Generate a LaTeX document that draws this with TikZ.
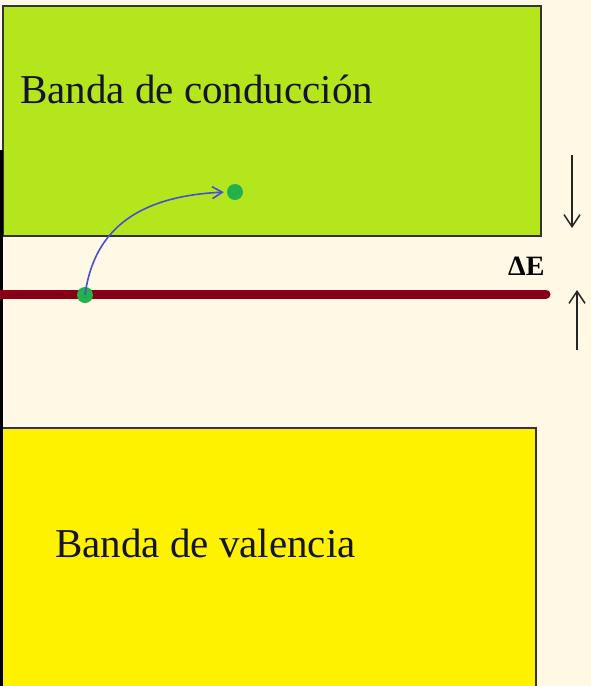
\documentclass[tikz,border=0pt]{standalone}
\usepackage{fontspec}
\setmainfont{Liberation Serif}
\usetikzlibrary{positioning,calc}
\usetikzlibrary{arrows.meta}
\definecolor{BgCream}{RGB}{255,248,228}
\definecolor{LimeBand}{RGB}{181,230,29}
\definecolor{YellowBand}{RGB}{255,242,0}
\definecolor{DotGreen}{RGB}{34,177,76}
\definecolor{LevelRed}{RGB}{136,0,21}
\definecolor{JumpBlue}{RGB}{70,80,210}
\definecolor{InkNavy}{RGB}{20,20,45}
\tikzset{
  band/.style={draw=black!80,line width=1.8pt,anchor=north west,inner sep=0pt},
  bandtxt/.style={font=\fontsize{41}{41}\selectfont,text=InkNavy,anchor=base west,inner sep=0pt},
  elec/.style={circle,fill=DotGreen,inner sep=0pt,minimum size=16pt},
  gaparrow/.style={draw=black!85,line width=1.5pt,-{Straight Barb[length=12pt,width=16pt]}},
}
\tikzset{level/.style={draw=LevelRed,line width=9pt,line cap=round},jump/.style={draw=JumpBlue,line width=1.6pt,-{Straight Barb[length=10pt,width=12pt]},shorten >=3pt}}

\begin{document}
\begin{tikzpicture}[x=1pt,y=-1pt]
\useasboundingbox[fill=BgCream] (0,0) rectangle (591,686);
\node[band,fill=LimeBand,minimum width=538pt,minimum height=230pt](cond) at (2,5){};
\node[band,fill=YellowBand,minimum width=535pt,minimum height=260pt](val) at (0,427){};
\draw[black,line width=3pt] (1,150)--(1,686);
\node[bandtxt](condtxt) at (20,103){Banda de conducción};
\node[bandtxt](valtxt) at (55,557){Banda de valencia};
\coordinate(lvlL) at (0,294);\coordinate(lvlR) at (546,294);
\draw[level] (lvlL)--(lvlR);
\node[elec](e1) at (85,295){};\node[elec](e2) at (235,192){};
\draw[jump] (e1.center) .. controls (94,228) and (140,196) .. (e2.west);
\coordinate(gT1) at (572,155);\coordinate(gT2) at (572,228);
\coordinate(gB1) at (577,350);\coordinate(gB2) at (577,290);
\draw[gaparrow] (gT1)--(gT2);\draw[gaparrow] (gB1)--(gB2);
\node[font=\fontsize{28}{28}\selectfont\bfseries,anchor=base west,inner sep=0pt](dE) at (508,275){ΔE};
\end{tikzpicture}
\end{document}
